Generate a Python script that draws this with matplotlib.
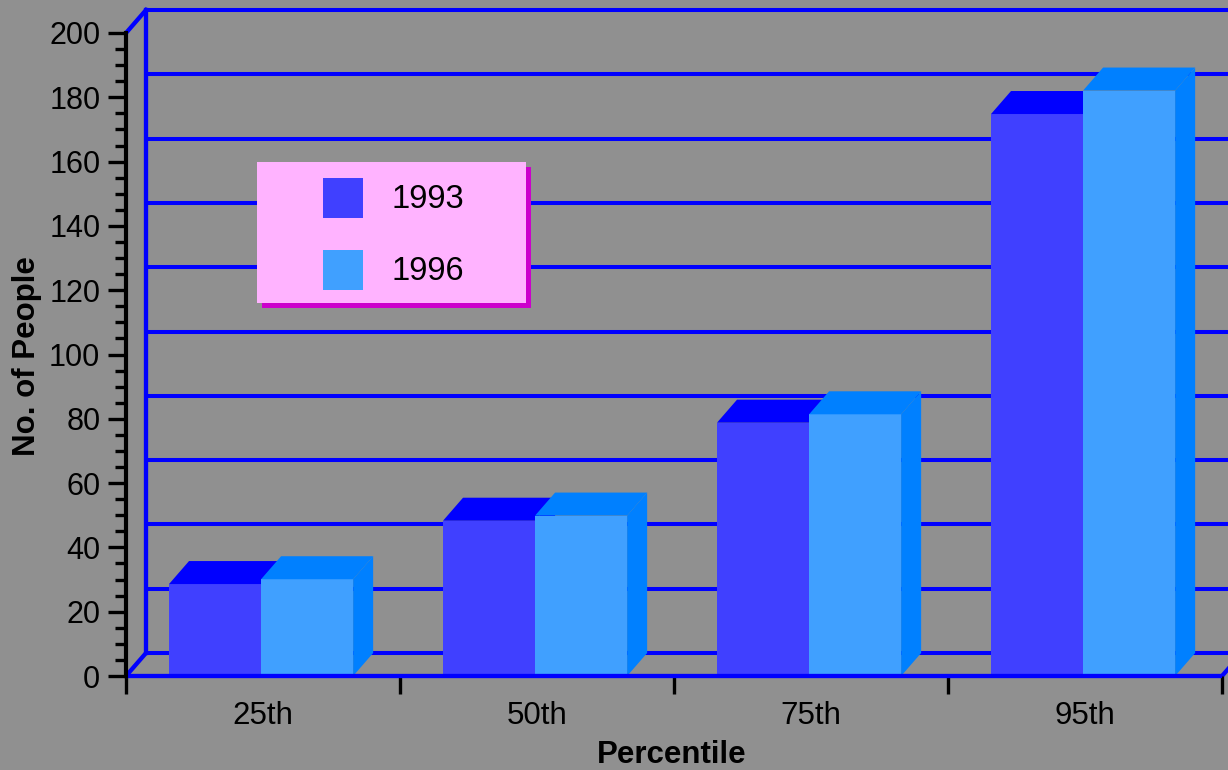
import matplotlib.pyplot as plt
from matplotlib.patches import Polygon, Rectangle

categories = ["25th", "50th", "75th", "95th"]
series_names = ["1993", "1996"]
values_1993 = [28.6, 48.3, 78.8, 174.8]
values_1996 = [30.1, 49.9, 81.4, 182.1]
y_ticks = list(range(0, 201, 20))

BG = "#909090"
GRID = "#0000ff"
front_colors = ["#4040ff", "#40a0ff"]
shade_colors = ["#0000ff", "#0080ff"]

plt.rcParams["font.family"] = ["Liberation Sans", "DejaVu Sans"]

W, H = 1228, 770
fig = plt.figure(figsize=(W / 100, H / 100), dpi=100, facecolor=BG)
ax = fig.add_axes([126 / W, 1 - 676 / H, (1222 - 126) / W, (676 - 33) / H])
ax.set_facecolor("none")
ax.set_xlim(0, len(categories))
ax.set_ylim(0, 200)

# depth of the fake 3d box, in data units
dx = 20 / 274
dy = 23 / 3.215

# back wall + floor
for v in y_ticks:
    ax.plot([dx, len(categories) + dx + 1], [v + dy, v + dy], color=GRID,
            lw=2.9, clip_on=False, zorder=0.5, solid_capstyle="butt")
ax.plot([dx, dx], [dy, 200 + dy], color=GRID, lw=3.1, clip_on=False, zorder=0.5)
ax.plot([0, dx], [200, 200 + dy], color=GRID, lw=3.1, clip_on=False, zorder=0.5)
ax.plot([0, dx], [0, dy], color=GRID, lw=3.1, clip_on=False, zorder=0.5)
ax.plot([len(categories), len(categories) + dx], [0, dy], color=GRID, lw=3.1,
        clip_on=False, zorder=0.5)

# bars
bar_w = 0.336
start = 0.157
for i in range(len(categories)):
    for j, vals in enumerate([values_1993, values_1996]):
        h = vals[i]
        x0 = i + start + j * bar_w
        ax.bar(x0, h, width=bar_w, align="edge", color=front_colors[j],
               linewidth=0, zorder=1)
        top = [(x0, h), (x0 + bar_w, h), (x0 + bar_w + dx, h + dy), (x0 + dx, h + dy)]
        side = [(x0 + bar_w, 0), (x0 + bar_w + dx, dy), (x0 + bar_w + dx, h + dy),
                (x0 + bar_w, h)]
        ax.add_patch(Polygon(top, closed=True, facecolor=shade_colors[j],
                             edgecolor="none", clip_on=False, zorder=1))
        ax.add_patch(Polygon(side, closed=True, facecolor=shade_colors[j],
                             edgecolor="none", clip_on=False, zorder=1))

# front floor edge
ax.plot([0, len(categories)], [0, 0], color=GRID, lw=3.1, clip_on=False,
        zorder=3, solid_capstyle="butt")

for s in ["top", "right", "bottom"]:
    ax.spines[s].set_visible(False)
ax.spines["left"].set_color("black")
ax.spines["left"].set_linewidth(3.0)
ax.spines["left"].set_zorder(4)

ax.set_yticks(y_ticks)
ax.set_yticks(range(0, 201, 5), minor=True)
ax.tick_params(axis="y", which="major", length=13, width=2.4, color="black",
               labelsize=22, pad=5.5)
ax.tick_params(axis="y", which="minor", length=8, width=2.4, color="black")

ax.set_xticks(range(len(categories) + 1))
ax.set_xticklabels([])
ax.set_xticks([i + 0.5 for i in range(len(categories))], minor=True)
ax.set_xticklabels(categories, minor=True)
ax.tick_params(axis="x", which="major", length=13, width=2.4, color="black")
ax.tick_params(axis="x", which="minor", length=0, labelsize=22.5, pad=18)

fig.text(27 / W, 1 - 356 / H, "No. of People", rotation=90, ha="center",
         va="center", fontsize=22.5, fontweight="bold")
fig.text(672 / W, 1 - 763 / H, "Percentile", ha="center", va="baseline",
         fontsize=22.5, fontweight="bold")

# legend box drawn in pixel space
ov = fig.add_axes([0, 0, 1, 1], zorder=5)
ov.set_xlim(0, W)
ov.set_ylim(H, 0)
ov.axis("off")
ov.add_patch(Rectangle((262, 167), 269, 141, facecolor="#cc00cc", edgecolor="none"))
ov.add_patch(Rectangle((257, 162), 269, 141, facecolor="#ffb3ff", edgecolor="none"))
for k, name in enumerate(series_names):
    yc = 199 + k * 72
    ov.add_patch(Rectangle((323, yc - 21), 40, 40, facecolor=front_colors[k],
                           edgecolor="none"))
    ov.text(391, yc, name, ha="left", va="center", fontsize=23.5)

fig.savefig("out.png", dpi=100, facecolor=BG)
